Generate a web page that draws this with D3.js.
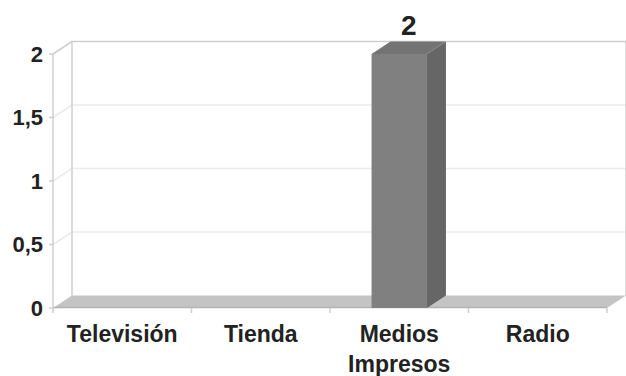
<!DOCTYPE html>
<html>
<head>
<meta charset="utf-8">
<script src="https://cdn.jsdelivr.net/npm/d3@7"></script>
<style>
  html, body { margin: 0; padding: 0; background: #fff; }
  svg { display: block; font-family: "Liberation Sans", Arial, sans-serif; }
</style>
</head>
<body>
<svg id="chart" width="626" height="376"></svg>
<script>
// Chart data
const categories = ["Televisión", "Tienda", "Medios Impresos", "Radio"];
const values = [0, 0, 2, 0];
const yTicks = [0, 0.5, 1, 1.5, 2];
const yTickLabels = ["0", "0,5", "1", "1,5", "2"];

const svg = d3.select("#chart");

// Front plane of the 3D box and its depth offset
const front = { left: 53, right: 607, top: 54, bottom: 308 };
const depth = { dx: 19, dy: -12.5 };

const x = d3.scaleBand().domain(categories).range([front.left, front.right]).paddingInner(0).paddingOuter(0);
const y = d3.scaleLinear().domain([0, 2]).range([front.bottom, front.top]);

const axisColor = "#cfcfcf";
const gridColor = "#ebebeb";
const textColor = "#222";

const pts = a => a.map(p => p.join(",")).join(" ");

// Back wall gridlines
const g = svg.append("g");
g.selectAll("line.grid").data(yTicks.filter(t => t > 0)).join("line")
  .attr("x1", front.left + depth.dx).attr("x2", front.right + depth.dx)
  .attr("y1", d => y(d) + depth.dy).attr("y2", d => y(d) + depth.dy)
  .attr("stroke", d => d === 2 ? axisColor : gridColor).attr("stroke-width", 1.5);

// Diagonal connectors on the side wall
g.selectAll("line.diag").data(yTicks.filter(t => t > 0)).join("line")
  .attr("x1", front.left).attr("y1", d => y(d))
  .attr("x2", front.left + depth.dx).attr("y2", d => y(d) + depth.dy)
  .attr("stroke", d => d === 2 ? axisColor : gridColor).attr("stroke-width", 1.5);

// Back wall vertical edges
g.append("line")
  .attr("x1", front.left + depth.dx).attr("x2", front.left + depth.dx)
  .attr("y1", y(2) + depth.dy).attr("y2", y(0) + depth.dy)
  .attr("stroke", axisColor).attr("stroke-width", 1.5);
g.append("line")
  .attr("x1", front.right + depth.dx).attr("x2", front.right + depth.dx)
  .attr("y1", y(2) + depth.dy).attr("y2", y(0) + depth.dy)
  .attr("stroke", axisColor).attr("stroke-width", 1.5);

// Floor
const floorPts = [
  [front.left, y(0)], [front.right, y(0)],
  [front.right + depth.dx, y(0) + depth.dy], [front.left + depth.dx, y(0) + depth.dy]
];
g.append("polygon").attr("points", pts(floorPts)).attr("fill", "#c4c4c4");
g.append("line")
  .attr("x1", front.left).attr("x2", front.right)
  .attr("y1", y(0) - 0.5).attr("y2", y(0) - 0.5)
  .attr("stroke", "#b2b2b2").attr("stroke-width", 1.5);

// Front value axis
g.append("line")
  .attr("x1", front.left).attr("x2", front.left)
  .attr("y1", y(2)).attr("y2", y(0))
  .attr("stroke", axisColor).attr("stroke-width", 1.5);
g.selectAll("line.ytick").data(yTicks).join("line")
  .attr("x1", front.left - 4).attr("x2", front.left)
  .attr("y1", d => y(d)).attr("y2", d => y(d))
  .attr("stroke", axisColor).attr("stroke-width", 1.5);

// Category ticks under the floor edge
const catEdges = [front.left].concat(categories.map(c => x(c) + x.bandwidth()));
g.selectAll("line.xtick").data(catEdges).join("line")
  .attr("x1", d => d).attr("x2", d => d)
  .attr("y1", y(0)).attr("y2", y(0) + 5)
  .attr("stroke", axisColor).attr("stroke-width", 1.5);

// Y tick labels
g.selectAll("text.ylab").data(yTicks).join("text")
  .attr("x", 43).attr("y", d => y(d)).attr("dy", "0.36em")
  .attr("text-anchor", "end").attr("font-size", 22).attr("font-weight", "bold")
  .attr("fill", textColor)
  .text((d, i) => yTickLabels[i]);

// 3D bars
const barW = x.bandwidth() * 0.4;
const bars = categories.map((c, i) => ({ c, v: values[i] })).filter(d => d.v > 0);
const bg = svg.append("g");
bars.forEach(d => {
  const x0 = x(d.c) + (x.bandwidth() - barW) / 2;
  const x1 = x0 + barW;
  const yt = y(d.v), yb = y(0);
  // side face
  bg.append("polygon").attr("points", pts([
    [x1, yb], [x1 + depth.dx, yb + depth.dy], [x1 + depth.dx, yt + depth.dy], [x1, yt]
  ])).attr("fill", "#666666");
  // top face
  bg.append("polygon").attr("points", pts([
    [x0, yt], [x1, yt], [x1 + depth.dx, yt + depth.dy], [x0 + depth.dx, yt + depth.dy]
  ])).attr("fill", "#747474");
  // front face
  bg.append("rect").attr("x", x0).attr("y", yt).attr("width", barW).attr("height", yb - yt)
    .attr("fill", "#808080");
  // value label
  bg.append("text")
    .attr("x", x0 + (barW + depth.dx) / 2).attr("y", yt + depth.dy - 7)
    .attr("text-anchor", "middle").attr("font-size", 28).attr("font-weight", "bold")
    .attr("fill", textColor).text(d.v);
});

// Category labels (wrapped on spaces where needed)
const xl = svg.append("g");
categories.forEach(c => {
  const words = c.split(" ");
  const t = xl.append("text")
    .attr("x", x(c) + x.bandwidth() / 2).attr("y", 342)
    .attr("text-anchor", "middle").attr("font-size", 23).attr("font-weight", "bold")
    .attr("fill", textColor);
  words.forEach((w, i) => {
    t.append("tspan").attr("x", x(c) + x.bandwidth() / 2).attr("dy", i === 0 ? 0 : 30).text(w);
  });
});
</script>
</body>
</html>
